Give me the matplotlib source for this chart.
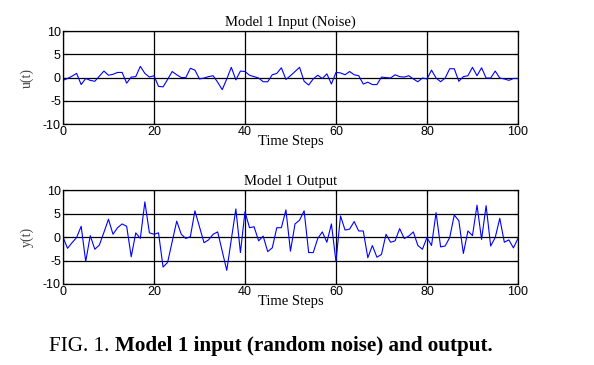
import matplotlib
matplotlib.use('Agg')
import matplotlib.pyplot as plt
import numpy as np

plt.rcParams['axes.unicode_minus'] = False

# time axis
steps = np.arange(0, 101)

# model 1 input (noise)
u = [-0.6, -0.2, 0.3, 0.9, -1.5, -0.2, -0.6, -0.8, 0.3, 1.4,
     0.5, 0.7, 1.1, 1.1, -1.2, 0.1, 0.2, 2.4, 0.9, 0.1,
     0.4, -1.9, -2.0, -0.4, 1.3, 0.6, 0.0, 0.0, 2.0, 1.6,
     -0.3, -0.1, 0.2, 0.4, -1.0, -2.6, -0.3, 2.2, -0.5, 1.4,
     1.3, 0.5, 0.2, -0.1, -0.9, -0.9, 0.6, 0.9, 2.1, -0.4,
     0.4, 1.3, 2.2, -0.8, -1.6, -0.3, 0.5, -0.2, 0.8, -1.4,
     1.1, 1.0, 0.6, 1.3, 0.6, 0.4, -1.4, -1.0, -1.5, -1.5,
     0.1, 0.0, -0.1, 0.6, 0.2, 0.1, 0.4, -0.3, -0.9, -0.1,
     -0.3, 1.6, -0.1, -0.9, -0.1, 1.9, 1.9, -0.8, 0.2, 0.4,
     2.2, 0.4, 2.1, -0.1, -0.1, 1.4, -0.1, -0.3, -0.6, -0.2,
     -0.2]

# model 1 output
y = [0.0, -2.4, -1.2, -0.1, 2.3, -5.2, 0.3, -2.6, -1.7, 1.0,
     3.8, 0.6, 2.0, 2.8, 2.3, -4.2, 0.9, -0.3, 7.5, 0.9,
     0.6, 0.9, -6.4, -5.4, -1.0, 3.4, 0.6, -0.3, 0.1, 5.6,
     2.2, -1.2, -0.6, 0.6, 1.1, -3.0, -7.1, -0.5, 6.0, -3.3,
     5.4, 2.0, 2.2, -0.8, 0.2, -3.1, -2.3, 2.0, 2.0, 5.8,
     -3.0, 2.8, 3.6, 5.6, -3.3, -3.3, -0.3, 1.1, -1.1, 2.8,
     -5.2, 4.5, 1.5, 1.7, 3.3, 1.3, 1.3, -4.4, -1.8, -4.3,
     -3.7, 0.6, -1.1, -0.8, 1.8, -0.3, 0.2, 1.1, -1.8, -2.6,
     -0.1, -1.8, 5.2, -2.1, -1.9, -0.1, 4.7, 3.5, -3.5, 1.3,
     0.3, 6.8, -0.5, 6.7, -1.9, -0.1, 4.0, -1.1, -0.6, -2.3,
     -0.3]

xticks = [0, 20, 40, 60, 80, 100]
yticks = [-10, -5, 0, 5, 10]

serif = 'Liberation Serif'
sans = 'Liberation Sans'

fig = plt.figure(figsize=(5.94, 3.65), dpi=100)
ax1 = fig.add_axes([0.106, 0.660, 0.766, 0.255])
ax2 = fig.add_axes([0.106, 0.222, 0.766, 0.257])

panels = [(ax1, u, 'Model 1 Input (Noise)', 'u(t)'),
          (ax2, y, 'Model 1 Output', 'y(t)')]

for ax, vals, title, ylab in panels:
    ax.plot(steps, vals, color='#0000ff', lw=0.8)
    ax.set_xlim(0, 100)
    ax.set_ylim(-10, 10)
    ax.set_xticks(xticks)
    ax.set_yticks(yticks)
    ax.grid(True, color='black', lw=0.9, ls='-')
    ax.tick_params(direction='in', length=3, width=0.8, labelsize=9,
                   top=True, right=True, pad=1.5)
    for lbl in ax.get_xticklabels() + ax.get_yticklabels():
        lbl.set_fontfamily(sans)
    for sp in ax.spines.values():
        sp.set_linewidth(0.9)
    ax.set_title(title, fontsize=10.5, family=serif, pad=4)
    ax.set_xlabel('Time Steps', fontsize=10.5, family=serif, labelpad=-2)
    ax.set_ylabel(ylab, fontsize=10, family=serif, color='#444444')
    ax.yaxis.set_label_coords(-0.064, 0.5)

# caption: plain prefix then bold text
t1 = fig.text(0.083, 0.038, 'FIG. 1. ', fontsize=15.2, family=serif, va='baseline')
fig.canvas.draw()
bb = t1.get_window_extent()
x2 = bb.x1 / fig.bbox.width
fig.text(x2, 0.038, 'Model 1 input (random noise) and output.', fontsize=15.2,
         family=serif, weight='bold', va='baseline')

fig.savefig('out.png', dpi=100)
